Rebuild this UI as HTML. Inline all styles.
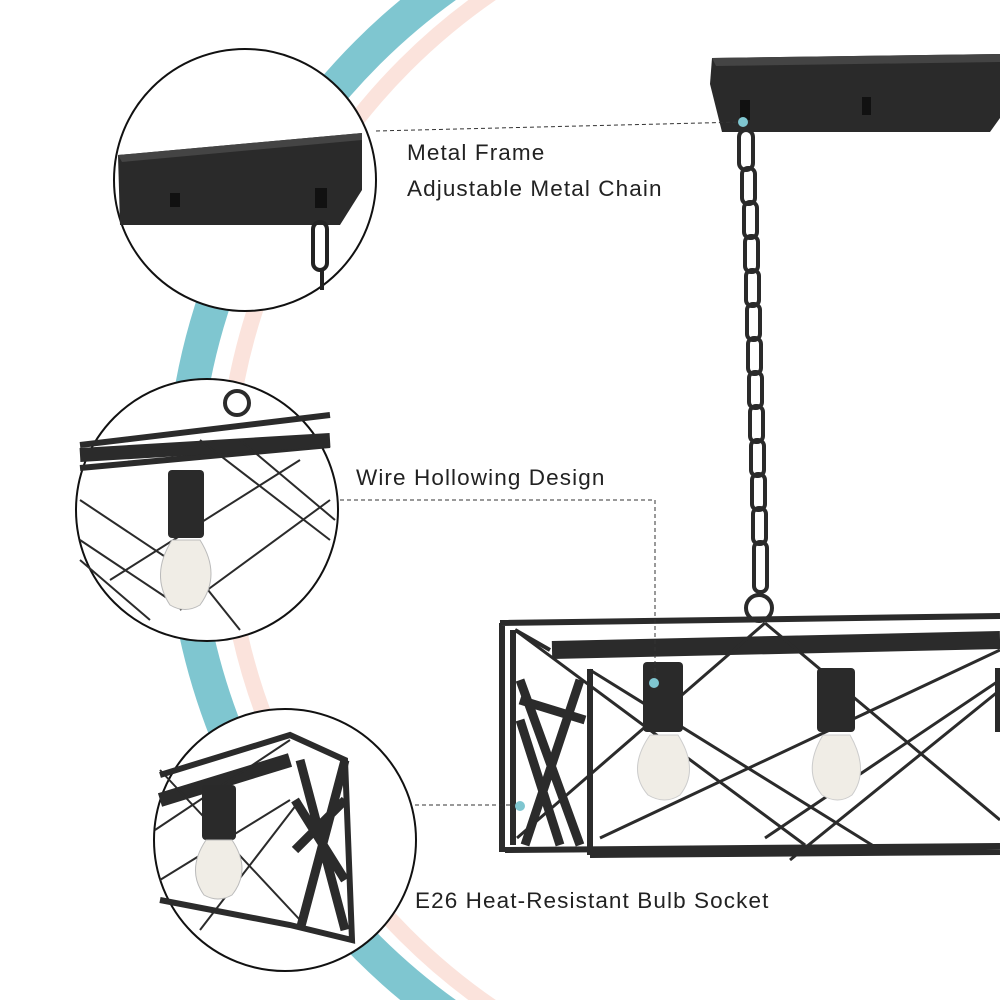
<!DOCTYPE html>
<html><head><style>
html,body{margin:0;padding:0;background:#fff;width:1000px;height:1000px;overflow:hidden;}
svg{display:block}
text{font-family:"Liberation Sans",sans-serif;font-size:22.5px;fill:#222;letter-spacing:1.1px}
</style></head><body>
<svg width="1000" height="1000" viewBox="0 0 1000 1000">
<circle cx="840" cy="500" r="615" fill="none" stroke="#fbe3dc" stroke-width="16"/>
<circle cx="814" cy="500" r="632" fill="none" stroke="#7fc6d0" stroke-width="34"/>

<!-- ceiling plate -->
<polygon points="712,58 1000,54 1000,118 990,132 722,132 710,84" fill="#2a2a2a"/>
<polygon points="712,58 1000,54 1000,62 716,66" fill="#444"/>
<rect x="862" y="97" width="9" height="18" fill="#111"/>
<rect x="740" y="100" width="10" height="20" fill="#111"/>
<!-- chain -->
<g fill="none" stroke="#2a2a2a" stroke-width="4">
<rect x="739" y="130" width="14" height="40" rx="7"/>
<rect x="742" y="168" width="13" height="36" rx="6"/>
<rect x="744" y="202" width="13" height="36" rx="6"/>
<rect x="745" y="236" width="13" height="36" rx="6"/>
<rect x="746" y="270" width="13" height="36" rx="6"/>
<rect x="747" y="304" width="13" height="36" rx="6"/>
<rect x="748" y="338" width="13" height="36" rx="6"/>
<rect x="749" y="372" width="13" height="36" rx="6"/>
<rect x="750" y="406" width="13" height="36" rx="6"/>
<rect x="751" y="440" width="13" height="36" rx="6"/>
<rect x="752" y="474" width="13" height="36" rx="6"/>
<rect x="753" y="508" width="13" height="36" rx="6"/>
<rect x="754" y="542" width="13" height="50" rx="6"/>
<circle cx="759" cy="608" r="13"/>
</g>
<!-- fixture -->
<g stroke="#2b2b2b" fill="none">
<path d="M500,623 L1000,616 M502,623 L502,852 M505,850 L1000,846 M590,855 L1000,852" stroke-width="6"/>
<path d="M513,630 L513,845 M590,669 L590,855" stroke-width="6"/>
<path d="M552,650 L1000,640" stroke-width="18"/>
<path d="M515,630 L550,650" stroke-width="4"/>
<path d="M520,680 L580,845 M525,845 L580,680 M520,720 L560,845 M520,700 L585,720" stroke-width="9"/>
<path d="M517,838 L765,623 M600,838 L1000,650 M765,838 L1000,680 M790,860 L1000,690 M765,623 L1000,820 M515,630 L805,845 M590,670 L880,850" stroke-width="3"/>
</g>
<g fill="#2a2a2a">
<rect x="643" y="662" width="40" height="70" rx="4"/>
<rect x="817" y="668" width="38" height="64" rx="4"/>
<rect x="995" y="668" width="5" height="64"/>
</g>
<g fill="#f0ede6" stroke="#ccc" stroke-width="1">
<path d="M650,735 L678,735 Q700,770 680,795 Q665,805 648,795 Q626,770 650,735Z"/>
<path d="M823,735 L850,735 Q870,770 852,795 Q838,805 822,795 Q802,770 823,735Z"/>
</g>

<!-- circle 1 -->
<circle cx="245" cy="180" r="131" fill="#fff" stroke="#111" stroke-width="2"/>
<polygon points="118,155 362,133 362,190 340,225 120,225" fill="#2a2a2a"/>
<polygon points="118,155 362,133 362,140 122,162" fill="#444"/>
<rect x="170" y="193" width="10" height="14" fill="#111"/>
<rect x="315" y="188" width="12" height="20" fill="#111"/>
<rect x="313" y="222" width="14" height="48" rx="7" fill="none" stroke="#222" stroke-width="4"/>
<line x1="322" y1="270" x2="322" y2="290" stroke="#222" stroke-width="4"/>

<!-- circle 2 -->
<circle cx="207" cy="510" r="131" fill="#fff" stroke="#111" stroke-width="2"/>
<g stroke="#2b2b2b" fill="none">
<path d="M80,445 L330,415 M80,468 L330,445" stroke-width="6"/>
<path d="M80,455 L330,440" stroke-width="14"/>
<circle cx="237" cy="403" r="12" stroke-width="4"/>
<path d="M80,500 L200,580 L240,630 M80,540 L170,600 M80,560 L150,620 M110,580 L300,460 M180,610 L330,500 M240,440 L335,520 M200,440 L330,540" stroke-width="2"/>
</g>
<rect x="168" y="470" width="36" height="68" rx="4" fill="#2a2a2a"/>
<path d="M172,540 L200,540 Q222,575 200,605 Q185,614 170,605 Q150,575 172,540Z" fill="#f0ede6" stroke="#bbb"/>

<!-- circle 3 -->
<circle cx="285" cy="840" r="131" fill="#fff" stroke="#111" stroke-width="2"/>
<g stroke="#2b2b2b" fill="none">
<path d="M160,775 L290,735 L345,760 L352,940 L290,925 L160,900" stroke-width="6"/>
<path d="M160,800 L290,760" stroke-width="14"/>
<path d="M300,760 L345,930 M345,760 L300,930 M295,800 L345,880 M295,850 L345,800" stroke-width="9"/>
<path d="M155,830 L290,740 M160,880 L290,800 M200,930 L300,800 M160,770 L300,920" stroke-width="2"/>
</g>
<rect x="202" y="785" width="34" height="55" rx="4" fill="#2a2a2a"/>
<path d="M206,840 L232,840 Q252,870 232,895 Q218,903 204,895 Q186,870 206,840Z" fill="#f0ede6" stroke="#bbb"/>

<!-- leader lines -->
<g stroke="#333" stroke-width="1" stroke-dasharray="4,3" fill="none">
<path d="M376,131 L742,122"/>
<path d="M340,500 L655,500 L655,682"/>
<path d="M415,805 L518,805"/>
</g>
<g fill="#7fc6d0">
<circle cx="743" cy="122" r="5"/>
<circle cx="654" cy="683" r="5"/>
<circle cx="520" cy="806" r="5"/>
</g>

<text x="407" y="160">Metal Frame</text>
<text x="407" y="196">Adjustable Metal Chain</text>
<text x="356" y="485">Wire Hollowing Design</text>
<text x="415" y="908">E26 Heat-Resistant Bulb Socket</text>
</svg>
</body></html>
